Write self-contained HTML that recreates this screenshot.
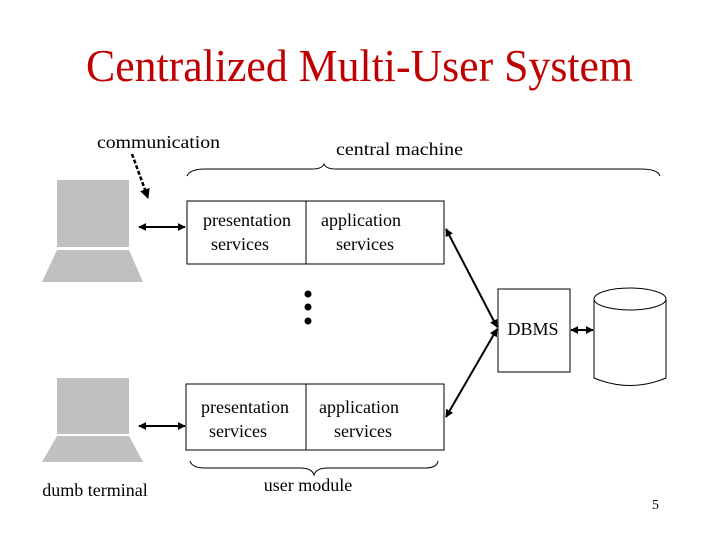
<!DOCTYPE html>
<html><head><style>body{margin:0;background:#fff}svg{display:block}</style></head>
<body>
<svg width="720" height="540" viewBox="0 0 720 540" xmlns="http://www.w3.org/2000/svg" font-family="Liberation Serif, serif">
<defs>
<marker id="a" viewBox="0 0 10 10" refX="9" refY="5" markerWidth="4" markerHeight="4" orient="auto-start-reverse"><path d="M0,0L10,5L0,10z" fill="#000"/></marker>
</defs>
<text x="86" y="81" font-size="46" fill="#c00000" textLength="547" lengthAdjust="spacingAndGlyphs">Centralized Multi-User System</text>
<text x="97" y="148" font-size="18" textLength="123" lengthAdjust="spacingAndGlyphs">communication</text>
<text x="336" y="155" font-size="18" textLength="127" lengthAdjust="spacingAndGlyphs">central machine</text>
<path d="M187,176 Q190,169 205,169 L312,169 Q322,169 324,164 Q326,169 336,169 L640,169 Q658,169 660,176" fill="none" stroke="#000" stroke-width="1"/>
<rect x="57" y="180" width="72" height="67" fill="#c0c0c0"/>
<path d="M57,250L129,250L143,282L42,282z" fill="#c0c0c0"/>
<rect x="57" y="378" width="72" height="56" fill="#c0c0c0"/>
<path d="M57,436L129,436L143,462L42,462z" fill="#c0c0c0"/>
<line x1="132" y1="154" x2="148" y2="198" stroke="#000" stroke-width="2.5" stroke-dasharray="4,2" marker-end="url(#a)"/>
<rect x="187" y="201" width="257" height="63" fill="none" stroke="#000"/>
<line x1="306" y1="201" x2="306" y2="264" stroke="#000"/>
<rect x="186" y="384" width="258" height="66" fill="none" stroke="#000"/>
<line x1="306" y1="384" x2="306" y2="450" stroke="#000"/>
<g font-size="18" text-anchor="middle">
<text x="247" y="226">presentation</text><text x="240" y="250">services</text>
<text x="361" y="226">application</text><text x="365" y="250">services</text>
<text x="245" y="413">presentation</text><text x="238" y="437">services</text>
<text x="359" y="413">application</text><text x="363" y="437">services</text>
<text x="533" y="335">DBMS</text>
<text x="95" y="496">dumb terminal</text>
<text x="308" y="491">user module</text>
</g>
<text x="652" y="509" font-size="14">5</text>
<line x1="139" y1="227" x2="185" y2="227" stroke="#000" stroke-width="2" marker-start="url(#a)" marker-end="url(#a)"/>
<line x1="139" y1="426" x2="185" y2="426" stroke="#000" stroke-width="2" marker-start="url(#a)" marker-end="url(#a)"/>
<circle cx="308" cy="294" r="3.5"/><circle cx="308" cy="307" r="3.5"/><circle cx="308" cy="321" r="3.5"/>
<rect x="498" y="289" width="72" height="83" fill="none" stroke="#000"/>
<line x1="446" y1="229" x2="497" y2="327" stroke="#000" stroke-width="2" marker-start="url(#a)" marker-end="url(#a)"/>
<line x1="446" y1="417" x2="497" y2="329" stroke="#000" stroke-width="2" marker-start="url(#a)" marker-end="url(#a)"/>
<line x1="571" y1="330" x2="593" y2="330" stroke="#000" stroke-width="2" marker-start="url(#a)" marker-end="url(#a)"/>
<ellipse cx="630" cy="299" rx="36" ry="11" fill="none" stroke="#000"/>
<path d="M594,299L594,378 Q630,393 666,378 L666,299" fill="none" stroke="#000"/>
<path d="M190,461 Q192,468 205,468 L300,468 Q312,468 314,475 Q316,468 328,468 L425,468 Q437,468 438,461" fill="none" stroke="#000"/>
</svg>
</body></html>
